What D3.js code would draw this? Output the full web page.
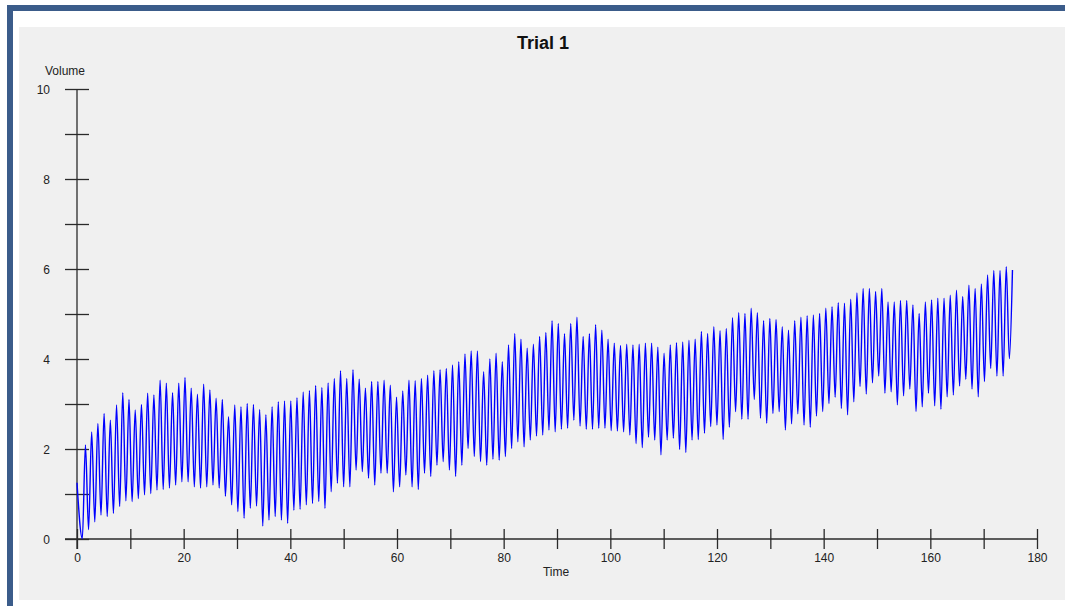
<!DOCTYPE html>
<html>
<head>
<meta charset="utf-8">
<script src="https://cdn.jsdelivr.net/npm/d3@7"></script>
<style>
  html, body { margin: 0; padding: 0; background: #fff; }
  svg { display: block; font-family: "Liberation Sans", Arial, sans-serif; }
</style>
</head>
<body>
<svg id="chart" width="1065" height="606"></svg>
<script>
// values: one trough and one peak per breath
const troughs = [
  0.01, 0.21, 0.38, 0.53, 0.50, 0.57, 0.72, 0.85, 0.83, 0.90,
  0.98, 1.01, 1.09, 1.10, 1.13, 1.20, 1.27, 1.27, 1.16, 1.13,
  1.16, 1.20, 1.13, 0.95, 0.76, 0.61, 0.46, 0.68, 0.73, 0.29,
  0.42, 0.50, 0.42, 0.35, 0.64, 0.66, 0.76, 0.79, 0.83, 0.68,
  1.05, 1.24, 1.16, 1.16, 1.53, 1.50, 1.35, 1.20, 1.46, 1.46,
  1.05, 1.16, 1.42, 1.16, 1.10, 1.46, 1.39, 1.64, 1.72, 1.53,
  1.39, 1.64, 2.01, 1.83, 1.72, 1.64, 1.77, 1.75, 1.83, 2.01,
  2.16, 2.05, 2.20, 2.29, 2.31, 2.42, 2.38, 2.44, 2.46, 2.64,
  2.51, 2.44, 2.44, 2.46, 2.46, 2.41, 2.40, 2.38, 2.31, 2.12,
  2.03, 2.26, 2.20, 1.87, 2.20, 2.24, 1.99, 1.92, 2.20, 2.21,
  2.35, 2.50, 2.53,
  2.21, 2.48, 2.83, 2.66, 2.66, 3.10, 2.68, 2.57, 2.79, 2.83,
  2.42, 2.56, 2.78, 2.53, 2.48, 2.73, 2.83, 3.01, 3.15, 2.90,
  2.76, 3.05, 3.39, 3.22, 3.47, 3.62, 3.24, 3.27, 2.98, 3.18,
  3.33, 2.83, 2.94, 3.24, 2.96, 2.88, 3.16, 3.20, 3.40, 3.55,
  3.33, 3.16, 3.50, 3.79, 3.62, 3.62, 4.01
];
const peaks = [
  2.09, 2.38, 2.57, 2.79, 2.64, 2.98, 3.25, 3.10, 2.87, 2.99,
  3.24, 3.20, 3.53, 3.46, 3.25, 3.46, 3.59, 3.35, 3.22, 3.44,
  3.31, 3.13, 3.10, 2.72, 2.98, 2.94, 3.01, 2.99, 2.88, 2.76,
  2.94, 3.05, 3.07, 3.07, 3.14, 3.27, 3.30, 3.41, 3.37, 3.47,
  3.57, 3.74, 3.57, 3.76, 3.55, 3.35, 3.50, 3.50, 3.53, 3.42,
  3.15, 3.29, 3.53, 3.52, 3.57, 3.64, 3.74, 3.76, 3.79, 3.87,
  3.94, 4.11, 4.18, 4.18, 3.72, 4.00, 4.13, 3.94, 4.31, 4.57,
  4.44, 4.24, 4.33, 4.50, 4.59, 4.85, 4.79, 4.56, 4.79, 4.93,
  4.50, 4.56, 4.76, 4.64, 4.44, 4.35, 4.30, 4.33, 4.31, 4.33,
  4.35, 4.35, 4.26, 4.13, 4.31, 4.36, 4.38, 4.42, 4.44, 4.61,
  4.57, 4.72, 4.63,
  4.68, 4.92, 5.03, 5.01, 5.13, 5.03, 4.85, 4.90, 4.88, 4.72,
  4.64, 4.85, 4.93, 4.96, 4.98, 5.01, 5.13, 5.16, 5.25, 5.24,
  5.33, 5.47, 5.57, 5.57, 5.50, 5.57, 5.27, 5.27, 5.30, 5.30,
  5.20, 5.01, 5.27, 5.31, 5.35, 5.35, 5.42, 5.53, 5.39, 5.64,
  5.57, 5.67, 5.87, 5.97, 5.97, 6.05, 5.98
];
const firstPoint = [0, 1.25];   // trace starts here at t = 0
const firstTrough = 1.0;        // time of first trough (s)
const lastPeak = 175.4;         // time of last peak (s)

const xTicks = [0, 10, 20, 30, 40, 50, 60, 70, 80, 90, 100, 110, 120, 130, 140, 150, 160, 170, 180];
const xLabels = [0, 20, 40, 60, 80, 100, 120, 140, 160, 180];
const yTicks = [0, 1, 2, 3, 4, 5, 6, 7, 8, 9, 10];
const yLabels = [0, 2, 4, 6, 8, 10];

const title = 'Trial 1';
const xTitle = 'Time';
const yTitle = 'Volume';

const svg = d3.select('#chart');

// frame: blue border, white margin, grey plot panel
svg.append('rect').attr('x', 0).attr('y', 0).attr('width', 1065).attr('height', 606).attr('fill', '#fff');
svg.append('rect').attr('x', 8).attr('y', 5).attr('width', 1065).attr('height', 6).attr('fill', '#3b5c8a');
svg.append('rect').attr('x', 7).attr('y', 5).attr('width', 6).attr('height', 606).attr('fill', '#3b5c8a');
svg.append('rect').attr('x', 19).attr('y', 27).attr('width', 1046).attr('height', 573).attr('fill', '#f0f0f0');

const x = d3.scaleLinear().domain([0, 180]).range([77, 1037]);
const y = d3.scaleLinear().domain([0, 10]).range([539, 89]);

// build the trace: trough then peak for every cycle
const period = (lastPeak - firstTrough) / (peaks.length - 0.5);
const points = [firstPoint];
troughs.forEach((v, i) => {
  const t = firstTrough + i * period;
  points.push([t, v]);
  points.push([t + period / 2, peaks[i]]);
});

const axisColor = '#2a2a2a';

// x axis with crossing ticks
const xAxis = svg.append('g')
  .attr('transform', `translate(0,${y(0)})`)
  .call(d3.axisBottom(x).tickValues(xTicks).tickSize(10)
    .tickFormat((d) => (xLabels.includes(d) ? d : '')));
xAxis.select('.domain').remove();
xAxis.selectAll('.tick line').attr('y1', -10).attr('y2', 10)
  .attr('stroke', axisColor).attr('stroke-width', 1.3);
xAxis.selectAll('.tick text').attr('y', 19).attr('dy', '0.35em')
  .attr('font-size', 12).attr('fill', '#222').attr('font-family', null);
xAxis.append('line').attr('x1', 65).attr('x2', x(180)).attr('y1', 0).attr('y2', 0)
  .attr('stroke', axisColor).attr('stroke-width', 1.3);

// y axis with crossing ticks
const yAxis = svg.append('g')
  .attr('transform', `translate(${x(0)},0)`)
  .call(d3.axisLeft(y).tickValues(yTicks).tickSize(12)
    .tickFormat((d) => (yLabels.includes(d) ? d : '')));
yAxis.select('.domain').remove();
yAxis.selectAll('.tick line').attr('x1', -12).attr('x2', 12)
  .attr('stroke', axisColor).attr('stroke-width', 1.3);
yAxis.selectAll('.tick text').attr('x', -27).attr('dy', '0.35em')
  .attr('font-size', 12).attr('fill', '#222').attr('font-family', null);
yAxis.append('line').attr('x1', 0).attr('x2', 0).attr('y1', y(10)).attr('y2', y(0) + 10)
  .attr('stroke', axisColor).attr('stroke-width', 1.3);

// trace
const line = d3.line().x((d) => x(d[0])).y((d) => y(d[1])).curve(d3.curveMonotoneX);
svg.append('path')
  .datum(points)
  .attr('d', line)
  .attr('fill', 'none')
  .attr('stroke', '#0000ff')
  .attr('stroke-width', 1.4);

// titles
svg.append('text').attr('x', 543).attr('y', 49).attr('text-anchor', 'middle')
  .attr('font-size', 18).attr('font-weight', 'bold').attr('fill', '#111').text(title);
svg.append('text').attr('x', 45).attr('y', 75)
  .attr('font-size', 12).attr('fill', '#222').text(yTitle);
svg.append('text').attr('x', 556).attr('y', 576).attr('text-anchor', 'middle')
  .attr('font-size', 12).attr('fill', '#222').text(xTitle);
</script>
</body>
</html>
